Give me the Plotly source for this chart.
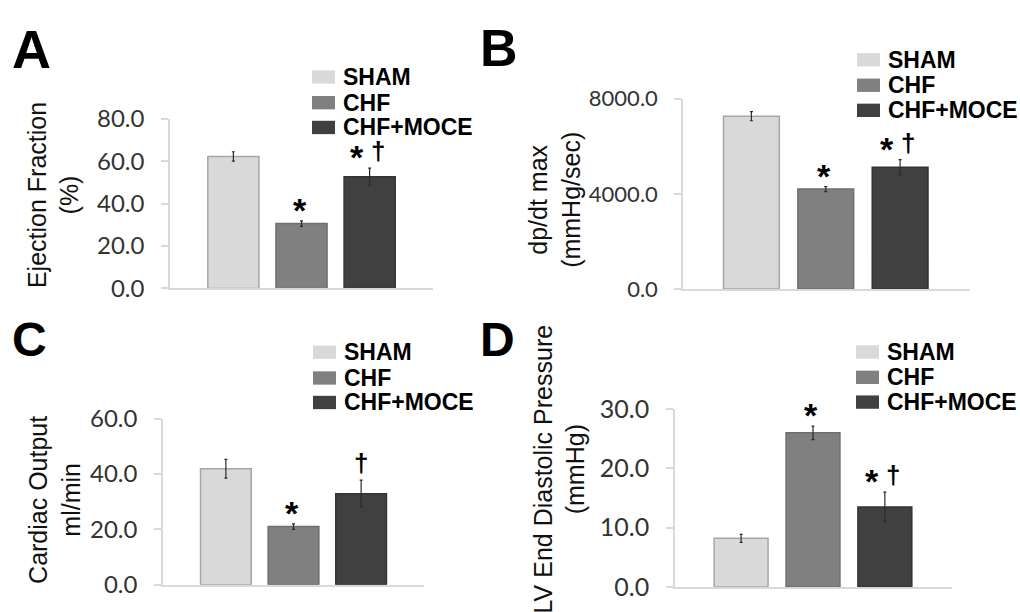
import plotly.graph_objects as go

# ---------------- data ----------------
groups = ["SHAM", "CHF", "CHF+MOCE"]
colors = ["#d9d9d9", "#808080", "#404040"]
edge_colors = ["#a6a6a6", "#6e6e6e", "#333333"]

ef = [62.3, 30.6, 52.7]
ef_err = [2.2, 1.3, 4.1]
dpdt = [7260, 4200, 5120]
dpdt_err = [190, 107, 320]
co = [41.9, 21.0, 32.9]
co_err = [3.4, 1.0, 4.9]
lvedp = [8.2, 26.0, 13.5]
lvedp_err = [0.67, 1.15, 2.5]

ef_stars = ["", "*", "*"]
ef_dagger = ["", "", "†"]
dpdt_stars = ["", "*", "*"]
dpdt_dagger = ["", "", "†"]
co_stars = ["", "*", ""]
co_dagger = ["", "", "†"]
lvedp_stars = ["", "*", "*"]
lvedp_dagger = ["", "", "†"]

ef_ticks = [0, 20, 40, 60, 80]
dpdt_ticks = [0, 4000, 8000]
co_ticks = [0, 20, 40, 60]
lvedp_ticks = [0, 10, 20, 30]

titles = ["Ejection Fraction<br>(%)", "dp/dt max<br>(mmHg/sec)",
          "Cardiac Output<br>ml/min", "LV End Diastolic Pressure<br>(mmHg)"]
letters = ["A", "B", "C", "D"]

# ---------------- layout geometry (pixels) ----------------
W, H = 1020, 612
def px(x):
    return x / W
def py(y):
    return 1 - y / H

panels = [
    dict(vals=ef, errs=ef_err, stars=ef_stars, dag=ef_dagger, ticks=ef_ticks, tick_size=24,
         xdom=(170, 433), ydom=(286, 108), yr=(0, 80), xr=(-0.93, 2.93),
         title_xy=(53, 188), letter_xy=(10, 35), letter_size=54,
         leg_x=312, leg_y=[64, 91, 117]),
    dict(vals=dpdt, errs=dpdt_err, stars=dpdt_stars, dag=dpdt_dagger, ticks=dpdt_ticks, tick_size=22,
         xdom=(683, 970), ydom=(286.7, 86.7), yr=(0, 8000), xr=(-0.92, 2.94),
         title_xy=(555, 193), letter_xy=(478, 34), letter_size=52,
         leg_x=857, leg_y=[46, 72.7, 99]),
    dict(vals=co, errs=co_err, stars=co_stars, dag=co_dagger, ticks=co_ticks, tick_size=24,
         xdom=(163, 424), ydom=(597, 422.7), yr=(0, 60), xr=(-0.93, 2.93),
         title_xy=(55, 508), letter_xy=(10, 340), letter_size=48,
         leg_x=313, leg_y=[353, 380, 405.7]),
    dict(vals=lvedp, errs=lvedp_err, stars=lvedp_stars, dag=lvedp_dagger, ticks=lvedp_ticks, tick_size=25,
         xdom=(675, 951.7), ydom=(599.3, 412.7), yr=(0, 30), xr=(-0.92, 2.93),
         title_xy=(559, 476), letter_xy=(478, 340), letter_size=48,
         leg_x=856, leg_y=[352.7, 379.3, 405.3]),
]

fig = go.Figure()
annotations = []
shapes = []

AX_COLOR = "#d9d9d9"
STAR_FONT = dict(family="Liberation Sans, Arial", size=34, color="black")
DAG_FONT = dict(family="Liberation Sans, Arial", size=26, color="black")

for p_i, p in enumerate(panels):
    n = "" if p_i == 0 else str(p_i + 1)
    xa, ya = "x" + n, "y" + n
    for g_i, g in enumerate(groups):
        fig.add_trace(go.Bar(
            x=[g], y=[p["vals"][g_i]], width=0.75,
            marker=dict(color=colors[g_i], line=dict(color=edge_colors[g_i], width=1.5)),
            error_y=dict(type="data", array=[p["errs"][g_i]], color="#2b2b2b",
                         thickness=1.2, width=1.5, visible=True),
            xaxis=xa, yaxis=ya, showlegend=False, name=g,
        ))
        top = p["vals"][g_i] + p["errs"][g_i]
        s, d = p["stars"][g_i], p["dag"][g_i]
        if s and d:
            annotations.append(dict(x=g, y=top, xref=xa, yref=ya, text="<b>%s</b>" % s, showarrow=False,
                                    xanchor="center", yanchor="bottom", xshift=-13, yshift=-10,
                                    font=STAR_FONT))
            annotations.append(dict(x=g, y=top, xref=xa, yref=ya, text="<b>%s</b>" % d, showarrow=False,
                                    xanchor="center", yanchor="bottom", xshift=8, yshift=0,
                                    font=DAG_FONT))
        elif s:
            annotations.append(dict(x=g, y=top, xref=xa, yref=ya, text="<b>%s</b>" % s, showarrow=False,
                                    xanchor="center", yanchor="bottom", xshift=-2, yshift=-10,
                                    font=STAR_FONT))
        elif d:
            annotations.append(dict(x=g, y=top, xref=xa, yref=ya, text="<b>%s</b>" % d, showarrow=False,
                                    xanchor="center", yanchor="bottom", xshift=0, yshift=0,
                                    font=DAG_FONT))

    xdom = [px(p["xdom"][0]), px(p["xdom"][1])]
    ydom = [py(p["ydom"][0]), py(p["ydom"][1])]
    fig.update_layout({
        "xaxis" + n: dict(domain=xdom, range=list(p["xr"]), anchor=ya, showline=True,
                          linecolor=AX_COLOR, linewidth=1.5, showticklabels=False,
                          ticks="", showgrid=False, zeroline=False, fixedrange=True),
        "yaxis" + n: dict(domain=ydom, range=list(p["yr"]), anchor=xa, showline=True,
                          linecolor=AX_COLOR, linewidth=1.5, ticks="outside", ticklen=7,
                          tickcolor=AX_COLOR, tickwidth=1.5, tickvals=p["ticks"],
                          tickformat=".1f",
                          tickfont=dict(family="Lato, Arial", size=p["tick_size"], color="#333333"),
                          ticklabelstandoff=12,
                          showgrid=False, zeroline=False, fixedrange=True),
    })

    tx, ty = p["title_xy"]
    annotations.append(dict(x=px(tx), y=py(ty), xref="paper", yref="paper", text=titles[p_i],
                            textangle=-90, showarrow=False, xanchor="center", yanchor="middle",
                            font=dict(family="Liberation Sans, Arial", size=25, color="#111111")))
    lx, ly = p["letter_xy"]
    annotations.append(dict(x=px(lx), y=py(ly), xref="paper", yref="paper", text="<b>%s</b>" % letters[p_i],
                            showarrow=False, xanchor="left", yanchor="middle",
                            font=dict(family="Liberation Sans, Arial", size=p["letter_size"], color="black")))
    for g_i, g in enumerate(groups):
        cy = p["leg_y"][g_i]
        shapes.append(dict(type="rect", xref="paper", yref="paper",
                           x0=px(p["leg_x"]), x1=px(p["leg_x"] + 23),
                           y0=py(cy + 7), y1=py(cy - 7),
                           fillcolor=colors[g_i], line=dict(width=0)))
        annotations.append(dict(x=px(p["leg_x"] + 29), y=py(cy), xref="paper", yref="paper",
                                text="<b>%s</b>" % g, showarrow=False, xanchor="left", yanchor="middle",
                                font=dict(family="Liberation Sans, Arial", size=23, color="black")))

fig.update_layout(
    width=W, height=H, autosize=False,
    margin=dict(l=0, r=0, t=0, b=0),
    paper_bgcolor="white", plot_bgcolor="white",
    barmode="overlay", showlegend=False,
    annotations=annotations, shapes=shapes,
)

fig.write_html("out.html", config={"displayModeBar": False},
               post_script="document.body.style.margin='0';document.body.style.overflow='hidden';")
